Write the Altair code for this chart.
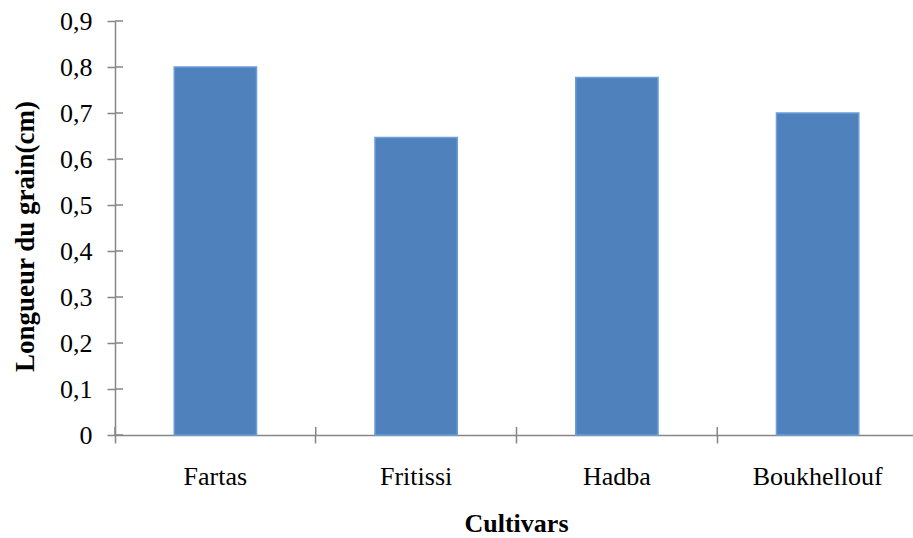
import altair as alt
import pandas as pd

cultivars = ["Fartas", "Fritissi", "Hadba", "Boukhellouf"]
longueur = [0.80, 0.647, 0.777, 0.70]
y_ticks = [0, 0.1, 0.2, 0.3, 0.4, 0.5, 0.6, 0.7, 0.8, 0.9]

df = pd.DataFrame({"Cultivar": cultivars, "Longueur": longueur})
ticks_df = pd.DataFrame({"v": y_ticks})

FONT = "'Times New Roman', 'Liberation Serif', 'DejaVu Serif', serif"
AXIS_COLOR = "#868686"
FS = 26

x_scale = alt.Scale(domain=cultivars, paddingInner=0, paddingOuter=0, range=[0, 803])
y_scale = alt.Scale(domain=[0, 0.9], nice=False, zero=True)

bars = alt.Chart(df).mark_bar(
    width=alt.RelativeBandSize(0.41),
    color="#4F81BD",
    stroke="#6A9FD8",
    strokeWidth=1.5,
).encode(
    x=alt.X(
        "Cultivar:N",
        scale=x_scale,
        sort=cultivars,
        axis=alt.Axis(
            title="Cultivars",
            labelAngle=0,
            bandPosition=0,
            tickSize=8,
            tickColor=AXIS_COLOR,
            tickWidth=1.5,
            domainColor=AXIS_COLOR,
            domainWidth=1.5,
            labelFont=FONT,
            labelFontSize=FS,
            labelColor="black",
            labelPadding=20,
            titleFont=FONT,
            titleFontSize=FS,
            titleFontWeight="bold",
            titleColor="black",
            titleX=401,
            titleY=96,
            titleBaseline="alphabetic",
        ),
    ),
    y=alt.Y(
        "Longueur:Q",
        scale=y_scale,
        axis=alt.Axis(
            title="Longueur du grain(cm)",
            values=y_ticks,
            grid=False,
            tickSize=8,
            tickColor=AXIS_COLOR,
            tickWidth=1.5,
            domainColor=AXIS_COLOR,
            domainWidth=1.5,
            labelFont=FONT,
            labelFontSize=FS,
            labelColor="black",
            labelPadding=15,
            labelExpr="datum.value == 0 ? '0' : replace(format(datum.value, '.1f'), '.', ',')",
            titleFont=FONT,
            titleFontSize=27,
            titleFontWeight="bold",
            titleColor="black",
            titleX=-82,
            titleY=215,
            titleAngle=-90,
            titleBaseline="alphabetic",
        ),
    ),
)

inner_y_ticks = alt.Chart(ticks_df).mark_rule(color=AXIS_COLOR, strokeWidth=1.5).encode(
    y=alt.Y("v:Q", scale=y_scale),
    x=alt.value(0),
    x2=alt.value(8),
)

inner_x_ticks = alt.Chart(df).mark_rule(color=AXIS_COLOR, strokeWidth=1.5).encode(
    x=alt.X("Cultivar:N", scale=x_scale, sort=cultivars, bandPosition=0),
    y=alt.value(406),
    y2=alt.value(414),
)

chart = alt.layer(bars, inner_y_ticks, inner_x_ticks).properties(
    width=798,
    height=414,
    autosize=alt.AutoSizeParams(type="none"),
    padding={"left": 115, "top": 21, "right": 0, "bottom": 103},
    background="white",
).configure_view(stroke=None)

chart.save("out.html", embed_options={"renderer": "svg", "actions": False})
